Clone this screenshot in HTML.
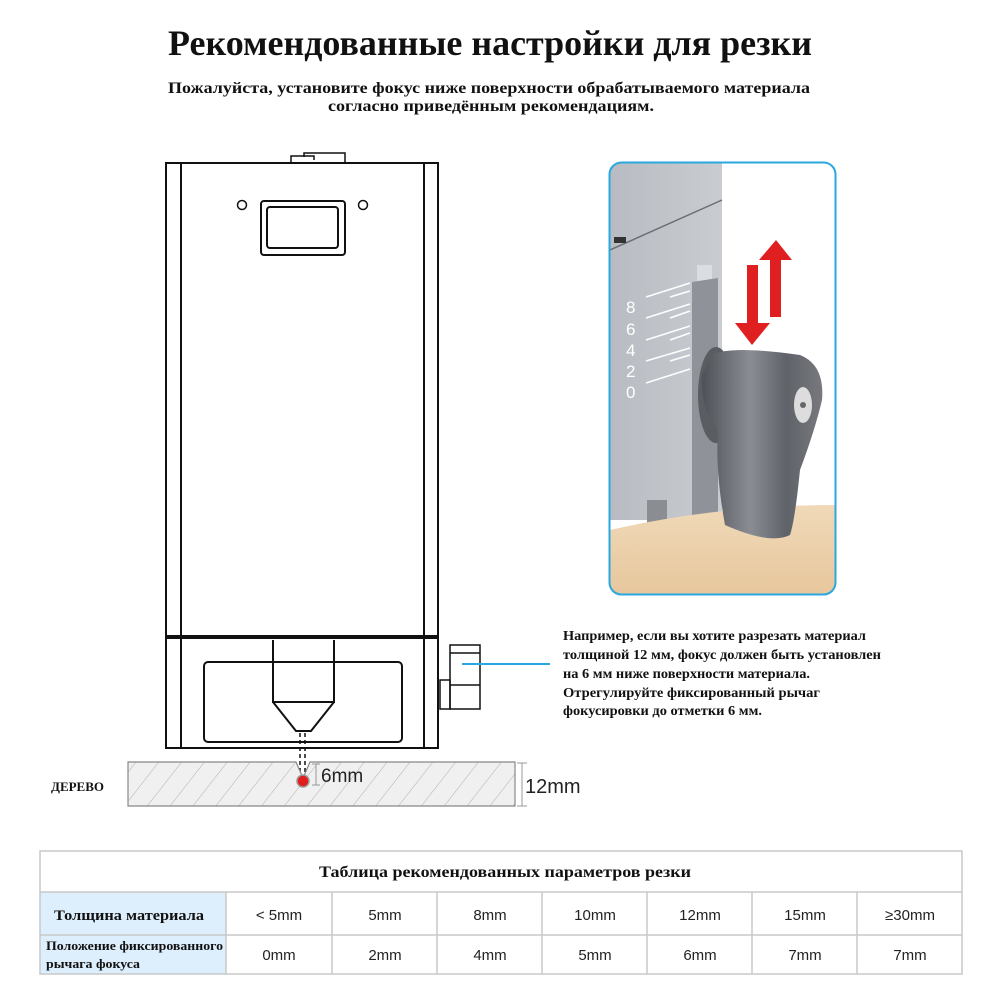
<!DOCTYPE html>
<html><head><meta charset="utf-8"><style>
html,body{margin:0;padding:0;background:#fff;}
svg{display:block}
.s{font-family:"Liberation Serif",serif;font-weight:bold;fill:#111}
.a{font-family:"Liberation Sans",sans-serif;fill:#222}
</style></head><body>
<svg width="1000" height="1002" viewBox="0 0 1000 1002" xmlns="http://www.w3.org/2000/svg">
<defs>
<pattern id="h" width="18" height="18" patternUnits="userSpaceOnUse" patternTransform="rotate(38)">
<rect width="18" height="18" fill="#f0f0f0"/><line x1="0" y1="0" x2="0" y2="18" stroke="#b0b0b0" stroke-width="1"/></pattern>
<linearGradient id="gr" x1="0" x2="1"><stop offset="0" stop-color="#b8bcc2"/><stop offset="1" stop-color="#c9ccd1"/></linearGradient>
<linearGradient id="wd" x1="0" y1="0" x2="0" y2="1"><stop offset="0" stop-color="#f0d9b8"/><stop offset="1" stop-color="#e7c79d"/></linearGradient>
<linearGradient id="kn" x1="0" x2="1"><stop offset="0" stop-color="#4e5157"/><stop offset=".4" stop-color="#8a8d93"/><stop offset=".7" stop-color="#5f6268"/><stop offset="1" stop-color="#77797e"/></linearGradient>
<clipPath id="cp"><rect x="610" y="163" width="225" height="431" rx="12"/></clipPath>
</defs>

<text class="s" x="490" y="55" font-size="36" text-anchor="middle" textLength="644" lengthAdjust="spacingAndGlyphs">Рекомендованные настройки для резки</text>
<text class="s" x="489" y="93" font-size="16" text-anchor="middle" textLength="642" lengthAdjust="spacingAndGlyphs">Пожалуйста, установите фокус ниже поверхности обрабатываемого материала</text>
<text class="s" x="491" y="111" font-size="16" text-anchor="middle" textLength="326" lengthAdjust="spacingAndGlyphs">согласно приведённым рекомендациям.</text>

<!-- device -->
<g fill="none" stroke="#111" stroke-width="2">
<rect x="166" y="163" width="272" height="585"/>
<line x1="181" y1="163" x2="181" y2="748"/>
<line x1="424" y1="163" x2="424" y2="748"/>
<path d="M291 163 V156 H314 V160" stroke-width="1.5"/>
<path d="M304 157 V153 H345 V163" stroke-width="1.5"/>
<circle cx="242" cy="205" r="4.5" stroke-width="1.5"/>
<circle cx="363" cy="205" r="4.5" stroke-width="1.5"/>
<rect x="261" y="201" width="84" height="54" rx="3"/>
<rect x="267" y="207" width="71" height="41" rx="3"/>
<rect x="204" y="662" width="198" height="80" rx="4"/>
<path d="M273 640 V702 H334 V640"/>
<path d="M273 702 L296 731 H311 L334 702"/>
<rect x="450" y="645" width="30" height="64" stroke-width="1.5"/>
<line x1="450" y1="653" x2="480" y2="653" stroke-width="1.5"/>
<line x1="450" y1="685" x2="480" y2="685" stroke-width="1.5"/>
<rect x="440" y="680" width="10" height="29" stroke-width="1.5"/>
</g>
<rect x="166" y="635" width="272" height="4" fill="#111"/>
<line x1="462" y1="664" x2="550" y2="664" stroke="#29a8e0" stroke-width="2"/>
<g stroke="#111" stroke-width="1.5" stroke-dasharray="4,3">
<line x1="300" y1="733" x2="300" y2="775"/><line x1="305" y1="733" x2="305" y2="775"/>
</g>

<!-- wood -->
<path d="M128 762 H296 L303 778 L310 762 H515 V806 H128 Z" fill="url(#h)" stroke="#888" stroke-width="1.2"/>
<circle cx="303" cy="781" r="6" fill="#e21d1d" stroke="#999" stroke-width="1.5"/>
<g stroke="#999" stroke-width="1">
<line x1="316" y1="764" x2="316" y2="785"/><line x1="312" y1="764" x2="320" y2="764"/><line x1="312" y1="785" x2="320" y2="785"/>
<line x1="522" y1="763" x2="522" y2="806"/><line x1="517" y1="763" x2="527" y2="763"/><line x1="517" y1="806" x2="527" y2="806"/>
</g>
<text class="a" x="321" y="782" font-size="19">6mm</text>
<text class="a" x="525" y="793" font-size="20">12mm</text>
<text class="s" x="51" y="791" font-size="13">ДЕРЕВО</text>

<!-- photo -->
<g clip-path="url(#cp)">
<rect x="610" y="163" width="225" height="431" fill="#fff"/>
<path d="M610 163 H722 V520 H610 Z" fill="url(#gr)"/>
<path d="M610 250 L722 200" stroke="#6a6d72" stroke-width="1.5"/>
<rect x="614" y="237" width="12" height="6" fill="#333"/>
<rect x="697" y="265" width="15" height="20" fill="#dcdde0"/>
<path d="M692 282 L718 278 V515 H692 Z" fill="#8f9399"/>
<rect x="647" y="500" width="20" height="25" fill="#8a8d92"/>
<g stroke="#fff" stroke-width="1.5" fill="none">
<path d="M646 297 L690 283 M670 297 L690 291 M646 318 L690 304 M670 318 L690 311 M646 340 L690 326 M670 340 L690 333 M646 361 L690 348 M670 361 L690 355 M646 383 L690 369"/>
</g>
<g class="a" font-size="17">
<text x="626" y="313" fill="#fff" style="fill:#fff">8</text><text x="626" y="335" style="fill:#fff">6</text><text x="626" y="356" style="fill:#fff">4</text><text x="626" y="377" style="fill:#fff">2</text><text x="626" y="398" style="fill:#fff">0</text>
</g>
<path d="M610 530 Q720 505 835 505 V594 H610 Z" fill="url(#wd)"/>
<ellipse cx="716" cy="395" rx="18" ry="48" fill="#5a5d62"/>
<path d="M712 355 Q730 345 800 355 Q825 365 822 400 Q815 430 800 470 Q795 520 790 535 Q770 545 725 525 Q715 470 718 430 Q700 410 702 375 Z" fill="url(#kn)"/>
<ellipse cx="803" cy="405" rx="9" ry="18" fill="#ddd"/>
<circle cx="803" cy="405" r="3" fill="#666"/>
<rect x="747" y="265" width="11" height="60" fill="#e02020"/>
<path d="M735 323 H770 L752 345 Z" fill="#e02020"/>
<rect x="770" y="257" width="11" height="60" fill="#e02020"/>
<path d="M759 260 H792 L776 240 Z" fill="#e02020"/>
</g>
<rect x="609.5" y="162.5" width="226" height="432" rx="12" fill="none" stroke="#29a8e0" stroke-width="2"/>

<!-- note -->
<g class="s" font-size="14">
<text x="563" y="640" textLength="303" lengthAdjust="spacingAndGlyphs">Например, если вы хотите разрезать материал</text>
<text x="563" y="659" textLength="318" lengthAdjust="spacingAndGlyphs">толщиной 12 мм, фокус должен быть установлен</text>
<text x="563" y="678" textLength="247" lengthAdjust="spacingAndGlyphs">на 6 мм ниже поверхности материала.</text>
<text x="563" y="697" textLength="257" lengthAdjust="spacingAndGlyphs">Отрегулируйте фиксированный рычаг</text>
<text x="563" y="715" textLength="199" lengthAdjust="spacingAndGlyphs">фокусировки до отметки 6 мм.</text>
</g>

<!-- table -->
<rect x="40" y="892" width="186" height="82" fill="#ddeefc"/>
<g stroke="#c8c8c8" stroke-width="1.5" fill="none">
<rect x="40" y="851" width="922" height="123"/>
<line x1="40" y1="892" x2="962" y2="892"/>
<line x1="40" y1="935" x2="962" y2="935"/>
<path d="M226 892V974M332 892V974M437 892V974M542 892V974M647 892V974M752 892V974M857 892V974"/>
</g>
<text class="s" x="505" y="877" font-size="16" text-anchor="middle" textLength="372" lengthAdjust="spacingAndGlyphs">Таблица рекомендованных параметров резки</text>
<text class="s" x="54" y="920" font-size="15" textLength="150" lengthAdjust="spacingAndGlyphs">Толщина материала</text>
<text class="s" x="46" y="950" font-size="12.5" textLength="177" lengthAdjust="spacingAndGlyphs">Положение фиксированного</text>
<text class="s" x="46" y="968" font-size="12.5" textLength="94" lengthAdjust="spacingAndGlyphs">рычага фокуса</text>
<g class="a" font-size="15" text-anchor="middle">
<text x="279" y="920">&lt; 5mm</text><text x="385" y="920">5mm</text><text x="490" y="920">8mm</text><text x="595" y="920">10mm</text><text x="700" y="920">12mm</text><text x="805" y="920">15mm</text><text x="910" y="920">≥30mm</text>
<text x="279" y="960">0mm</text><text x="385" y="960">2mm</text><text x="490" y="960">4mm</text><text x="595" y="960">5mm</text><text x="700" y="960">6mm</text><text x="805" y="960">7mm</text><text x="910" y="960">7mm</text>
</g>
</svg>
</body></html>
